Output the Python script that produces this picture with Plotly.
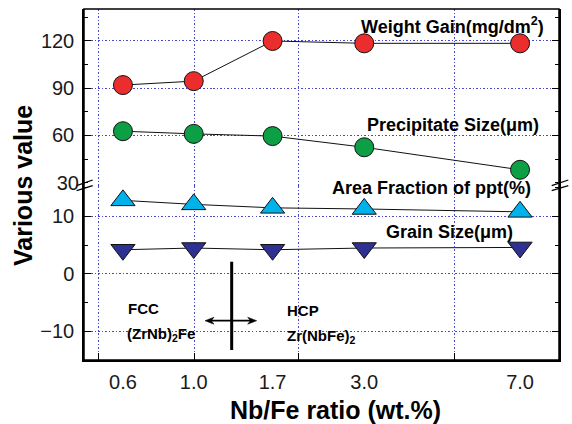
import plotly.graph_objects as go

# ---------------- data ----------------
ratio_labels = ["0.6", "1.0", "1.7", "3.0", "7.0"]
ratio_axis_pos = [0.82, 2.31, 3.97, 5.90, 9.18]     # position of each ratio on the (non-uniform) x scale
x_grid_pos = [0.30, 2.32, 4.51, 7.81]               # major tick / grid positions of x scale

weight_gain = [92.0, 94.5, 120.0, 118.5, 118.5]
precipitate_size = [62.7, 61.0, 59.6, 52.5, 38.2]
area_fraction = [12.8, 12.1, 11.5, 11.3, 10.8]
grain_size = [4.2, 4.5, 4.2, 4.5, 4.6]

upper_ticks = [60, 90, 120]
upper_extra_tick = [30]
lower_ticks = [-10, 0, 10]

FONT = "Arial, Liberation Sans, sans-serif"
GRID = "#4848c8"
GRID_DASH = "1.5px,2px"
BREAK = 0.4957

fig = go.Figure()

def add_series(y, yaxis, symbol, color, size):
    fig.add_trace(go.Scatter(
        x=ratio_axis_pos, y=y, yaxis=yaxis, xaxis="x",
        mode="lines+markers",
        line=dict(color="#111111", width=1),
        marker=dict(symbol=symbol, size=size, color=color,
                    line=dict(color="#111111", width=1)),
        cliponaxis=False, showlegend=False, hoverinfo="skip"))

add_series(weight_gain, "y2", "circle", "#ec2d2d", 19)
add_series(precipitate_size, "y2", "circle", "#0c9f46", 19)
add_series(area_fraction, "y", "triangle-up", "#00b2ea", 21)
add_series(grain_size, "y", "triangle-down", "#2e3192", 21)

# invisible carrier trace so that the label axes (x2 / y3) are drawn
fig.add_trace(go.Scatter(x=ratio_axis_pos, y=[upper_extra_tick[0]] * len(ratio_axis_pos),
                         xaxis="x2", yaxis="y3", mode="markers",
                         marker=dict(opacity=0, size=1), showlegend=False,
                         hoverinfo="skip"))

axis_common = dict(showline=True, linecolor="black", linewidth=1.5,
                   ticks="inside", tickcolor="black", ticklen=7, tickwidth=1.2,
                   zeroline=False)

fig.update_layout(
    width=572, height=424,
    margin=dict(l=84, r=13, t=9, b=64),
    paper_bgcolor="white", plot_bgcolor="white",
    font=dict(family=FONT, color="#1a1a1a"),
    xaxis=dict(range=[0, 10], domain=[0, 1], anchor="y",
               tickvals=x_grid_pos, showticklabels=False,
               showgrid=True, gridcolor=GRID, gridwidth=1, griddash=GRID_DASH,
               **axis_common),
    xaxis2=dict(range=[0, 10], domain=[0, 1], overlaying="x", anchor="y", side="bottom",
                tickvals=ratio_axis_pos, ticktext=ratio_labels, ticks="",
                showgrid=False, zeroline=False, showline=False,
                tickfont=dict(size=20, color="#1a1a1a"), ticklabelstandoff=8),
    yaxis=dict(domain=[0, BREAK], range=[-15, 15.3],
               tickvals=lower_ticks, mirror="ticks",
               showgrid=True, gridcolor=GRID, gridwidth=1, griddash=GRID_DASH,
               tickfont=dict(size=20, color="#1a1a1a"), ticklabelstandoff=4,
               minor=dict(ticks="inside", dtick=5, tick0=0, ticklen=4, tickcolor="black"),
               **axis_common),
    yaxis2=dict(domain=[BREAK, 1], range=[27.9, 140.3], anchor="x",
                tickvals=upper_ticks, mirror="ticks",
                showgrid=True, gridcolor=GRID, gridwidth=1, griddash=GRID_DASH,
                tickfont=dict(size=20, color="#1a1a1a"), ticklabelstandoff=4,
                minor=dict(ticks="inside", dtick=15, tick0=0, ticklen=4, tickcolor="black"),
                **axis_common),
    yaxis3=dict(domain=[BREAK, 1], range=[27.9, 140.3], anchor="x", overlaying="y2",
                side="left",
                tickvals=upper_extra_tick, ticks="", showgrid=False, showline=False,
                zeroline=False, tickfont=dict(size=20, color="#1a1a1a"),
                ticklabelstandoff=4),
)

# frame
fig.add_shape(type="rect", xref="paper", yref="paper", x0=0, x1=1, y0=0, y1=1,
              line=dict(color="black", width=1.5), layer="above")

# axis break marks
for (x0, x1) in [(-0.0155, 0.0183), (0.9846, 1.0196)]:
    for (y0, y1) in [(0.4966, 0.5128), (0.4823, 0.4966)]:
        fig.add_shape(type="line", xref="paper", yref="paper", x0=x0, x1=x1, y0=y0, y1=y1,
                      line=dict(color="black", width=1.3))

# phase boundary marker: vertical bar + double-headed horizontal arrow
fig.add_shape(type="line", xref="paper", yref="paper", x0=0.3109, x1=0.3109,
              y0=0.0285, y1=0.280, line=dict(color="black", width=3))
ya = 0.112
fig.add_shape(type="line", xref="paper", yref="paper", x0=0.262, x1=0.356,
              y0=ya, y1=ya, line=dict(color="black", width=1.8))
hx, hy = 0.019, 0.010   # arrowhead length / half-height in paper units
for tip, d in [(0.2547, 1), (0.3636, -1)]:
    fig.add_shape(type="path", xref="paper", yref="paper",
                  path=f"M {tip},{ya} L {tip + d * hx},{ya + hy} L {tip + d * hx * 0.7},{ya} "
                       f"L {tip + d * hx},{ya - hy} Z",
                  fillcolor="black", line=dict(color="black", width=0.5))

def label(text, x, y, size):
    fig.add_annotation(xref="paper", yref="paper", x=x, y=y, text=text,
                       showarrow=False, xanchor="left", yanchor="middle",
                       font=dict(family=FONT, size=size, color="black"))

label("<b>Weight Gain(mg/dm<sup>2</sup>)</b>", 0.578, 0.954, 18)
label("<b>Precipitate Size(μm)</b>", 0.591, 0.6695, 18)
label("<b>Area Fraction of ppt(%)</b>", 0.517, 0.490, 18)
label("<b>Grain Size(μm)</b>", 0.631, 0.3655, 18)
label("<b>FCC</b>", 0.088, 0.148, 15)
label("<b>(ZrNb)<sub>2</sub>Fe</b>", 0.086, 0.072, 15)
label("<b>HCP</b>", 0.423, 0.142, 15)
label("<b>Zr(NbFe)<sub>2</sub></b>", 0.423, 0.066, 15)

# axis titles
fig.add_annotation(xref="paper", yref="paper", x=(335 - 84) / 475, y=-0.142,
                   text="<b>Nb/Fe ratio (wt.%)</b>", showarrow=False,
                   xanchor="center", yanchor="middle",
                   font=dict(family=FONT, size=25, color="black"))
fig.add_annotation(xref="paper", yref="paper", x=(23 - 84) / 475, y=(360 - 186) / 351,
                   text="<b>Various value</b>", showarrow=False, textangle=-90,
                   xanchor="center", yanchor="middle",
                   font=dict(family=FONT, size=25, color="black"))

fig.write_html("out.html")
